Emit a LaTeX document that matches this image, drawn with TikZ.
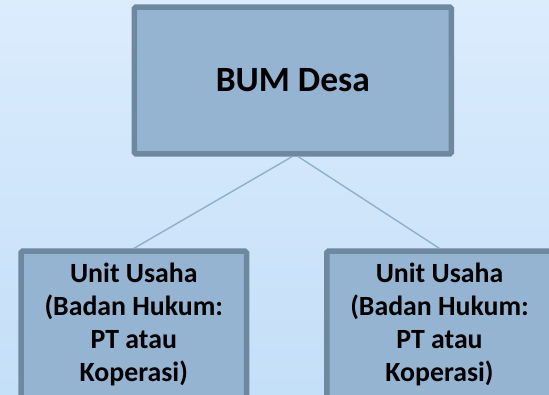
\documentclass[tikz,border=0pt]{standalone}
\usepackage{fontspec}
\setmainfont{Carlito}
\definecolor{bgtop}{HTML}{DBECFD}
\definecolor{bgbot}{HTML}{C4DFF8}
\definecolor{boxfill}{HTML}{95B4D2}
\definecolor{boxline}{HTML}{6D889F}
\definecolor{connline}{HTML}{8EB0CC}
\begin{document}
\begin{tikzpicture}[x=1pt,y=-1pt,
  box/.style={draw=boxline, fill=boxfill, line width=5.5pt, rounded corners=1.5pt, inner sep=0pt},
  utext/.style={font=\bfseries\fontsize{27.8}{33.3}\selectfont, align=center, inner sep=0pt, text=black},
  conn/.style={draw=connline, line width=1.4pt}]
\useasboundingbox (0,0) rectangle (549,394);
\clip (0,0) rectangle (549,394);
\shade[top color=bgtop,bottom color=bgbot] (0,0) rectangle (549,394);
\node[box, minimum width=316.8pt, minimum height=146.9pt,
  font=\bfseries\fontsize{35.5}{42}\selectfont] (bum) at (292.85,80.5) {BUM Desa};
\node[box, anchor=north, minimum width=225.5pt, minimum height=200pt] (u1) at (133.8,248.45) {};
\node[box, anchor=north, minimum width=225.5pt, minimum height=200pt] (u2) at (439.5,248.45) {};
\node[utext, anchor=north] (u1t) at (133.8,262.3) {Unit Usaha\\(Badan Hukum:\\PT atau\\Koperasi)};
\node[utext, anchor=north] (u2t) at (439.5,262.3) {Unit Usaha\\(Badan Hukum:\\PT atau\\Koperasi)};
\draw[conn] ([xshift=-0.8pt]bum.south) -- (u1.north);
\draw[conn] ([xshift=5.5pt]bum.south) -- (u2.north);
\end{tikzpicture}
\end{document}
